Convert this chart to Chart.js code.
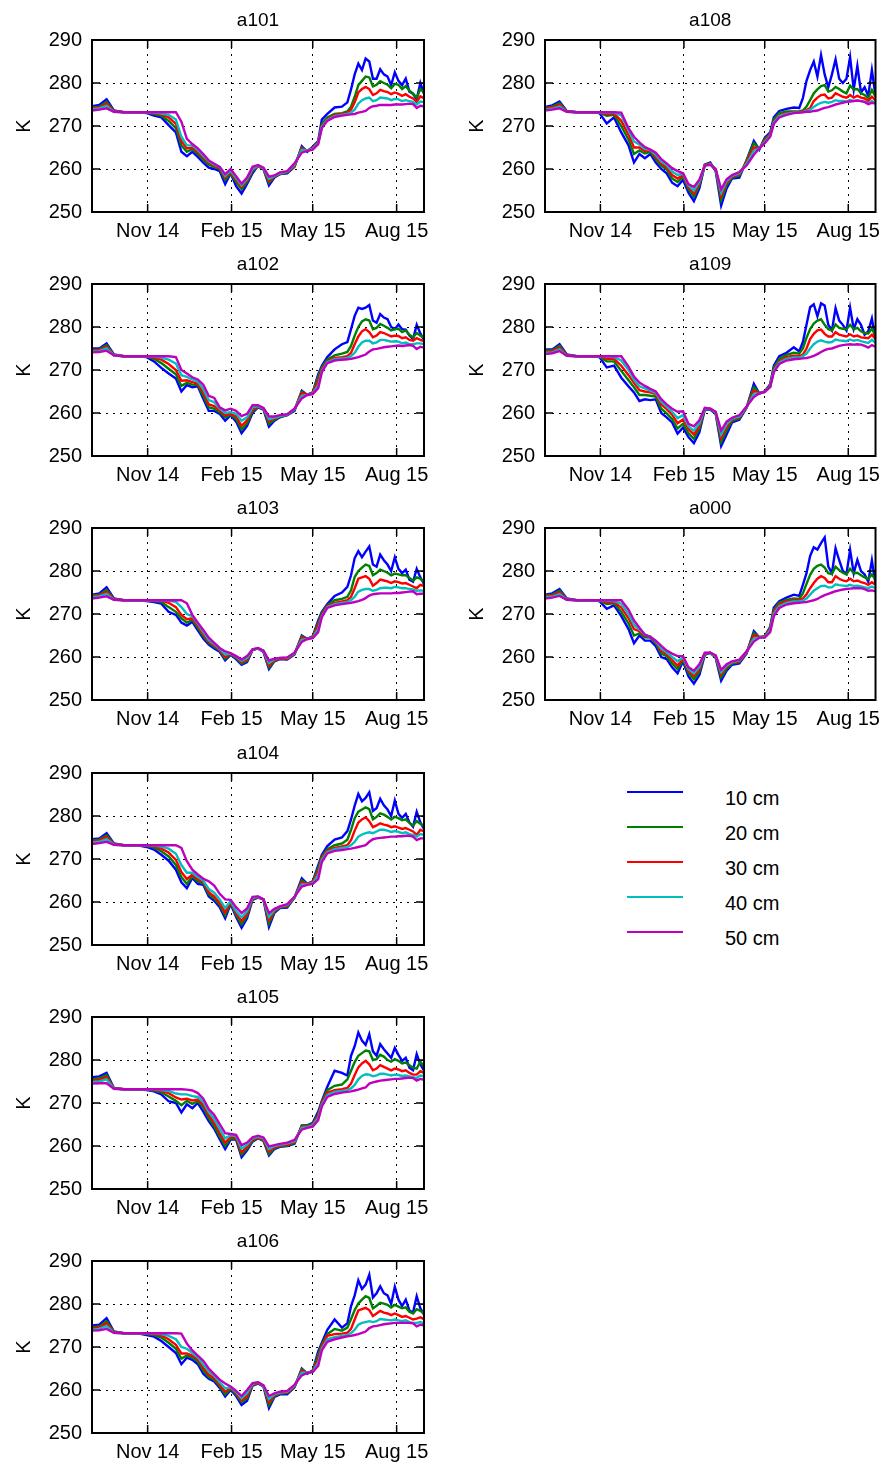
<!DOCTYPE html>
<html>
<head>
<meta charset="utf-8">
<script src="https://cdn.jsdelivr.net/npm/chart.js@4"></script>
<style>
  body { margin: 0; width: 888px; height: 1468px; background: #fff; overflow: hidden; position: relative;
         font-family: "Liberation Sans", Arial, sans-serif; }
  canvas { position: absolute; }
  .key { position: absolute; left: 627px; width: 56px; height: 2px; }
  .lab { position: absolute; left: 725px; font-size: 20px; line-height: 20px; color: #000; white-space: nowrap; }
</style>
</head>
<body>
<script>
// days since 1 Sep 2014
const days = [0,8,16,24,35,50,60,68,76,84,92,98,104,110,116,122,128,134,140,146,152,158,164,170,176,182,188,194,200,206,214,222,230,236,242,248,252,258,266,274,
  280,284,288,292,296,300,304,308,312,316,320,324,328,332,336,340,344,348,352,356,360,364];
const tickDays = [61, 153, 242, 334];
const tickLabels = ['Nov 14', 'Feb 15', 'May 15', 'Aug 15'];
const yTicks = [250, 260, 270, 280, 290];
const depthLabels = ['10 cm', '20 cm', '30 cm', '40 cm', '50 cm'];
const depthColors = ['#0000ff', '#008000', '#ff0000', '#00bfbf', '#bf00bf'];

// a101
const a101_10cm = [274.6,274.9,276.2,273.6,273.2,273.2,273.0,272.4,272.0,270.2,268.5,264.0,263.0,264.0,262.8,261.5,260.3,260.0,259.5,256.5,259.0,256.0,254.3,256.5,259.0,260.8,260.0,256.2,258.0,258.8,259.0,260.5,265.3,264.0,265.2,266.5,271.5,272.8,274.3,274.5,
  275.5,278.5,282.0,284.5,283.0,285.7,285.0,281.0,281.0,283.2,282.0,281.5,279.5,282.5,280.5,279.5,281.0,278.0,277.5,276.2,280.0,277.5];
const a101_20cm = [274.3,274.5,275.6,273.5,273.2,273.2,273.1,272.8,272.4,271.2,269.5,265.5,264.0,264.6,263.5,262.2,261.0,260.5,260.0,257.5,259.0,257.0,255.3,257.0,259.5,260.6,260.0,256.8,258.2,258.8,259.2,260.6,265.0,264.2,265.0,266.3,270.5,272.0,272.8,273.0,
  273.4,274.5,276.8,279.5,280.5,281.5,281.3,279.2,279.6,280.4,280.0,279.6,278.8,279.8,279.6,278.6,279.3,278.2,277.5,276.6,278.6,277.8];
const a101_30cm = [274.1,274.3,275.2,273.4,273.2,273.2,273.2,273.0,272.7,272.0,270.5,266.5,264.8,265.0,264.0,262.7,261.5,260.8,260.3,258.0,259.3,257.5,255.8,257.4,259.8,260.7,260.1,257.2,258.3,258.9,259.3,260.7,264.8,264.3,264.9,266.2,270.0,271.6,272.5,272.8,
  273.0,273.8,275.5,277.8,278.6,279.1,278.6,277.2,277.6,278.4,278.1,277.9,277.4,277.8,277.5,277.0,277.4,276.8,276.4,275.6,276.9,276.5];
const a101_40cm = [273.9,274.1,274.7,273.3,273.2,273.2,273.2,273.1,272.9,272.6,271.5,267.5,265.5,265.5,264.4,263.1,261.8,261.0,260.5,258.4,259.6,257.9,256.2,257.7,260.0,260.8,260.2,257.7,258.4,259.0,259.4,261.0,264.4,264.3,264.7,266.0,269.8,271.4,272.3,272.6,
  272.8,273.1,273.8,275.2,276.0,276.4,276.6,275.8,276.0,276.6,276.5,276.4,276.0,276.3,276.2,275.8,276.0,275.8,275.6,275.0,275.7,275.6];
const a101_50cm = [273.6,273.8,274.1,273.3,273.2,273.2,273.2,273.2,273.2,273.2,273.2,271.0,267.0,265.8,264.8,263.5,262.0,261.2,260.5,258.8,260.0,258.3,256.6,258.0,260.5,260.9,260.3,258.2,258.5,259.2,259.5,261.3,263.8,264.2,264.5,265.8,269.5,271.2,272.1,272.4,
  272.6,272.7,272.8,273.1,273.3,273.5,274.2,274.6,274.7,274.9,274.9,274.9,274.9,275.0,275.0,275.0,275.1,275.2,275.1,274.2,274.7,274.6];

// a108
const a108_10cm = [274.4,274.8,275.7,273.5,273.2,273.2,273.0,270.6,272.0,268.5,265.5,261.5,263.5,262.5,263.5,261.5,260.0,259.0,256.8,256.0,257.5,254.5,252.5,255.5,261.0,261.5,259.5,251.5,255.5,257.8,258.0,262.0,266.5,264.5,267.3,268.5,272.0,273.5,274.0,274.3,
  274.2,276.5,280.5,283.0,285.0,281.5,286.5,282.0,279.0,282.0,285.5,281.0,280.0,281.0,286.0,278.5,284.0,277.8,279.0,277.0,283.0,277.0];
const a108_20cm = [274.2,274.5,275.3,273.4,273.2,273.2,273.1,272.4,272.6,270.0,266.8,263.5,264.3,263.6,264.0,262.3,260.8,259.9,257.8,257.0,258.2,255.3,253.5,256.2,261.0,261.3,259.7,252.8,256.3,258.0,258.5,262.0,266.0,264.6,267.0,268.2,271.5,273.0,273.4,273.4,
  273.4,273.6,274.5,276.0,277.6,278.5,279.3,279.5,278.0,278.3,279.1,278.6,278.0,277.6,279.4,278.5,278.6,277.6,277.2,276.5,278.4,276.8];
const a108_30cm = [274.0,274.3,274.9,273.4,273.2,273.2,273.2,272.8,272.9,271.2,268.0,265.0,265.0,264.2,264.3,262.8,261.3,260.4,258.6,257.8,258.6,255.8,254.3,256.7,260.9,261.2,259.8,253.8,256.8,258.2,258.8,261.6,265.0,264.7,266.6,268.0,271.0,272.5,273.0,273.2,
  273.2,273.4,273.7,274.2,275.8,276.6,277.2,277.3,276.4,276.6,277.6,277.2,276.8,276.6,277.2,276.6,277.0,276.6,276.4,275.8,276.8,276.0];
const a108_40cm = [273.8,274.0,274.5,273.3,273.2,273.2,273.2,273.1,273.1,272.5,269.0,266.4,265.7,264.7,264.4,263.3,261.8,260.9,259.4,258.6,258.9,256.2,255.0,257.1,260.8,261.1,259.9,254.5,257.2,258.4,259.0,261.2,264.2,264.8,266.3,267.8,270.8,272.3,272.8,273.1,
  273.1,273.3,273.5,273.8,274.4,275.0,275.4,275.6,275.4,275.6,276.0,275.8,275.8,275.7,276.1,275.8,276.0,275.8,275.6,275.3,275.8,275.4];
const a108_50cm = [273.6,273.8,274.1,273.3,273.2,273.2,273.2,273.2,273.2,273.1,269.5,267.5,266.2,265.1,264.5,263.8,262.3,261.3,260.2,259.5,259.0,256.5,255.8,257.5,260.8,261.0,260.0,255.3,257.6,258.6,259.3,260.8,263.3,264.8,266.0,267.5,270.5,272.0,272.6,273.0,
  273.1,273.2,273.3,273.3,273.5,273.6,273.9,274.2,274.4,274.7,275.0,275.2,275.4,275.6,275.7,275.8,275.9,275.8,275.6,275.1,275.4,275.2];

// a102
const a102_10cm = [275.0,275.0,276.2,273.6,273.2,273.2,273.0,272.0,270.5,269.2,268.0,265.0,266.5,266.0,266.2,263.3,260.5,260.5,259.8,258.2,259.5,258.0,255.3,257.0,260.0,261.3,260.8,256.8,258.2,259.0,259.5,260.5,265.2,264.2,264.8,269.0,271.0,273.0,274.8,276.0,
  276.5,279.5,282.6,284.5,284.2,284.5,285.1,281.5,281.0,283.0,282.2,281.8,280.0,279.5,280.6,279.5,279.4,278.0,277.2,280.5,278.5,277.0];
const a102_20cm = [274.7,274.8,275.8,273.5,273.2,273.2,273.1,272.6,271.6,270.3,269.0,266.3,267.0,266.6,266.5,264.0,261.3,261.0,260.2,259.0,259.6,258.6,256.2,257.6,260.4,261.4,260.9,257.5,258.5,259.1,259.5,260.7,265.0,264.2,264.7,268.5,270.6,272.4,273.4,273.8,
  274.2,275.6,278.0,280.0,281.3,281.8,281.5,279.5,279.8,280.7,280.3,279.8,279.2,279.5,279.6,278.8,279.2,278.2,277.6,278.6,278.0,277.6];
const a102_30cm = [274.5,274.6,275.4,273.4,273.2,273.2,273.2,272.9,272.4,271.4,270.0,267.5,267.6,267.2,266.8,264.8,262.0,261.6,260.6,259.5,259.8,259.2,257.0,258.3,260.8,261.5,261.0,258.1,258.7,259.2,259.6,260.8,264.6,264.3,264.6,267.5,270.2,272.0,272.8,273.0,
  273.2,274.0,276.0,277.8,279.0,279.5,278.8,277.6,278.0,278.8,278.6,278.2,277.8,278.0,277.9,277.4,277.6,277.0,276.8,277.4,277.0,276.7];
const a102_40cm = [274.3,274.4,275.0,273.4,273.2,273.2,273.2,273.1,272.9,272.4,271.5,268.8,268.4,267.8,267.3,265.6,263.0,262.5,261.0,260.0,260.2,259.8,258.2,259.0,261.3,261.6,261.1,258.6,258.9,259.3,259.6,260.9,264.0,264.2,264.5,266.5,269.8,271.8,272.5,272.7,
  272.8,273.2,274.0,275.4,276.4,276.8,276.8,276.2,276.4,277.0,277.0,276.8,276.6,276.7,276.6,276.2,276.4,276.0,276.0,276.2,276.2,276.0];
const a102_50cm = [274.1,274.2,274.5,273.4,273.2,273.2,273.2,273.2,273.2,273.2,273.0,270.0,269.2,268.3,267.8,266.6,264.0,263.5,261.3,260.6,261.0,260.5,259.3,259.8,261.8,261.8,261.2,259.2,259.2,259.5,259.7,261.0,263.4,264.2,264.4,265.8,269.5,271.6,272.2,272.4,
  272.5,272.6,272.8,273.0,273.3,273.6,274.3,274.8,274.9,275.1,275.3,275.4,275.5,275.6,275.7,275.6,275.7,275.8,275.6,274.9,275.4,275.2];

// a109
const a109_10cm = [274.8,274.8,276.0,273.6,273.2,273.2,273.0,270.6,271.0,268.2,266.2,264.8,262.8,263.2,263.0,263.2,260.0,259.0,257.8,255.2,256.6,254.4,253.0,255.5,260.8,260.8,259.8,252.3,255.0,257.8,258.4,261.2,266.8,264.5,265.0,266.7,271.0,273.2,274.0,275.3,
  274.3,276.5,280.5,284.6,285.3,282.5,285.5,285.0,280.5,279.2,284.4,281.5,280.5,279.2,284.5,279.5,281.8,280.5,278.2,279.0,282.0,277.0];
const a109_20cm = [274.5,274.6,275.6,273.5,273.2,273.2,273.1,272.0,272.0,269.8,267.6,266.0,264.2,264.2,264.0,263.8,261.0,259.9,258.6,256.4,257.5,255.3,254.0,256.3,260.9,260.9,259.9,253.3,256.0,258.2,258.7,261.3,266.0,264.6,265.0,266.5,270.5,272.6,273.5,274.0,
  273.8,275.0,277.5,279.5,280.8,281.5,281.8,280.5,279.5,279.2,280.6,279.8,279.6,279.5,280.5,279.5,279.8,279.0,278.6,278.5,279.6,278.0];
const a109_30cm = [274.2,274.4,275.2,273.4,273.2,273.2,273.2,272.6,272.6,271.0,268.8,267.0,265.3,265.0,264.8,264.4,262.0,260.9,259.6,257.6,258.5,256.3,255.0,257.0,261.0,261.0,260.1,254.2,256.8,258.5,259.0,261.3,265.2,264.6,264.9,266.3,270.0,272.0,273.0,273.3,
  273.2,273.6,275.0,277.2,278.4,279.2,279.4,278.4,277.8,277.8,278.8,278.2,278.0,277.8,278.3,277.8,278.0,277.6,277.5,277.4,278.2,277.2];
const a109_40cm = [274.0,274.1,274.8,273.3,273.2,273.2,273.2,273.1,273.0,272.2,270.0,267.8,266.2,265.7,265.2,264.7,262.6,261.5,260.3,258.8,259.5,256.9,255.9,257.6,261.1,261.0,260.2,255.0,257.4,258.7,259.2,261.4,264.4,264.6,264.9,266.1,269.8,271.7,272.6,272.9,
  272.9,273.2,273.8,275.0,276.0,276.6,276.9,276.6,276.4,276.5,277.1,276.9,276.8,276.7,277.1,276.8,277.0,276.7,276.5,276.3,277.0,276.3];
const a109_50cm = [273.7,273.9,274.4,273.3,273.2,273.2,273.2,273.2,273.2,273.2,270.8,268.5,267.1,266.3,265.6,265.0,263.2,262.0,261.0,260.3,260.4,257.5,256.9,258.3,261.2,261.0,260.3,255.9,258.0,258.9,259.5,261.5,263.7,264.6,264.9,266.0,269.5,271.4,272.2,272.5,
  272.6,272.7,272.8,273.0,273.3,273.7,274.2,274.6,274.9,275.0,275.3,275.6,275.8,275.9,276.0,275.9,276.0,275.9,275.6,275.2,275.8,275.4];

// a103
const a103_10cm = [274.5,274.8,276.2,273.6,273.2,273.2,273.0,272.8,272.4,270.5,269.8,268.0,267.3,268.2,266.2,264.3,262.9,262.0,261.2,259.2,260.5,259.5,258.2,258.8,261.6,262.0,261.2,257.2,259.0,259.5,259.4,260.6,265.0,264.2,264.8,268.5,270.5,272.3,274.2,275.0,
  276.3,279.0,283.0,284.6,283.2,284.5,285.7,281.5,281.0,283.8,282.5,281.5,280.0,283.2,280.5,279.5,280.3,278.0,277.5,280.5,278.5,277.0];
const a103_20cm = [274.3,274.5,275.6,273.5,273.2,273.2,273.1,273.0,272.8,271.6,270.5,269.0,268.0,268.6,266.8,264.8,263.3,262.4,261.5,259.6,260.6,259.8,258.5,259.1,261.7,262.0,261.3,257.6,259.1,259.6,259.5,260.7,264.8,264.2,264.7,268.0,270.2,272.0,273.2,273.5,
  274.0,275.5,278.6,280.0,280.8,281.5,281.2,279.0,279.5,280.3,280.0,279.6,279.0,279.4,279.2,279.0,279.0,278.4,277.8,278.5,278.2,277.5];
const a103_30cm = [274.1,274.3,275.2,273.4,273.2,273.2,273.2,273.2,273.1,272.6,271.6,269.8,268.8,269.0,267.3,265.3,263.6,262.7,261.7,260.0,260.7,260.0,258.8,259.4,261.7,262.0,261.4,258.0,259.3,259.7,259.6,260.8,264.5,264.2,264.6,267.3,269.8,271.8,272.6,272.9,
  273.2,274.0,276.0,278.2,278.5,278.8,278.2,276.6,277.2,278.0,277.8,277.6,277.2,277.6,277.4,277.1,277.2,276.8,276.4,276.0,276.8,276.5];
const a103_40cm = [273.9,274.1,274.7,273.3,273.2,273.2,273.2,273.2,273.2,273.1,272.8,271.6,270.0,269.5,267.7,265.8,264.0,263.0,261.9,260.6,260.8,260.1,259.1,259.8,261.8,262.0,261.4,258.6,259.5,259.8,259.8,260.9,264.0,264.2,264.5,266.5,269.5,271.6,272.3,272.6,
  272.8,273.2,274.0,275.2,275.6,275.8,275.8,275.4,275.6,276.0,276.1,276.1,276.0,276.3,276.2,276.0,276.0,275.8,275.7,275.4,275.5,275.4];
const a103_50cm = [273.6,273.8,274.1,273.3,273.2,273.2,273.2,273.2,273.2,273.2,273.2,273.2,272.5,269.8,268.0,266.3,264.5,263.3,262.1,261.3,260.9,260.2,259.4,260.2,261.8,262.1,261.5,259.2,259.6,259.8,259.9,261.0,263.5,264.2,264.4,265.8,269.3,271.4,272.0,272.3,
  272.5,272.6,272.8,273.0,273.3,273.7,274.3,274.6,274.7,274.8,274.8,274.8,274.8,274.9,274.9,275.0,275.1,275.2,275.3,274.6,274.7,274.7];

// a000
const a000_10cm = [274.5,274.8,275.8,273.6,273.2,273.2,273.0,271.2,272.0,269.5,266.5,263.2,265.0,263.8,263.8,262.5,260.0,259.5,257.6,256.2,259.0,255.5,253.8,255.8,260.5,261.0,259.8,254.5,256.8,258.2,258.5,260.8,266.0,264.6,264.8,267.0,271.5,273.0,273.8,274.5,
  274.2,276.8,279.5,283.5,285.5,285.0,286.5,287.8,281.0,279.5,285.3,282.5,280.0,279.3,284.9,279.5,282.6,280.0,279.2,277.5,282.5,277.0];
const a000_20cm = [274.3,274.5,275.4,273.5,273.2,273.2,273.1,272.3,272.5,270.5,267.8,265.0,265.5,264.6,264.5,263.2,260.8,260.2,258.5,257.2,259.3,256.3,254.8,256.6,260.7,261.0,260.0,255.3,257.3,258.5,258.8,261.0,265.6,264.6,264.8,266.8,271.0,272.7,273.3,273.6,
  273.5,274.8,277.0,279.1,280.5,281.2,281.5,280.8,279.5,279.3,281.0,280.2,279.6,279.2,280.5,279.5,279.6,279.0,278.5,278.2,279.2,278.0];
const a000_30cm = [274.1,274.3,275.0,273.4,273.2,273.2,273.2,272.8,272.8,271.5,269.0,266.5,266.0,265.0,264.8,263.6,261.4,260.7,259.3,258.0,259.6,256.8,255.6,257.2,260.8,261.0,260.1,256.0,257.8,258.7,259.0,261.1,265.0,264.6,264.7,266.5,270.5,272.2,273.0,273.2,
  273.2,273.6,274.6,276.0,277.2,278.2,278.8,278.4,277.4,277.4,278.8,278.2,277.8,277.6,278.2,277.6,277.8,277.4,277.2,276.8,277.4,276.8];
const a000_40cm = [273.9,274.0,274.6,273.3,273.2,273.2,273.2,273.1,273.0,272.4,270.0,267.5,266.4,265.2,264.7,263.7,262.0,261.1,260.0,259.0,259.9,257.2,256.2,257.7,260.9,261.0,260.2,256.5,258.0,258.8,259.2,261.2,264.3,264.5,264.6,266.2,270.0,271.8,272.6,272.9,
  272.9,273.1,273.6,274.5,275.4,276.0,276.5,276.6,276.2,276.2,276.9,276.7,276.6,276.5,276.8,276.5,276.6,276.4,276.2,276.0,276.4,276.0];
const a000_50cm = [273.6,273.8,274.2,273.3,273.2,273.2,273.2,273.2,273.2,273.2,271.0,268.5,266.8,265.2,264.6,263.8,262.6,261.5,260.8,260.2,260.2,257.6,256.8,258.3,261.0,261.0,260.4,257.0,258.3,259.0,259.4,261.3,263.6,264.5,264.5,265.8,269.5,271.4,272.2,272.5,
  272.6,272.7,272.8,273.0,273.2,273.5,274.0,274.4,274.7,275.0,275.3,275.5,275.7,275.8,275.9,276.0,276.0,276.0,275.8,275.4,275.5,275.3];

// a104
const a104_10cm = [274.6,274.8,276.0,273.6,273.2,273.2,272.8,272.2,271.0,269.6,267.5,264.6,263.2,265.6,264.2,264.0,261.3,260.3,258.8,256.2,259.5,256.5,254.0,256.2,260.5,261.0,260.6,254.2,257.5,258.6,258.7,261.0,265.5,264.2,264.8,268.5,271.0,273.0,274.5,275.0,
  276.5,279.2,282.4,285.1,283.4,284.2,285.5,281.2,281.8,284.0,282.5,281.5,280.0,283.6,280.5,279.6,280.5,278.5,277.5,281.0,278.5,277.0];
const a104_20cm = [274.3,274.5,275.5,273.5,273.2,273.2,273.0,272.7,271.8,270.6,268.6,265.8,264.2,266.0,264.8,264.4,261.8,260.8,259.3,256.9,259.8,257.0,254.8,256.8,260.7,261.1,260.6,255.0,257.8,258.7,258.9,261.0,265.0,264.2,264.7,268.0,270.6,272.3,273.2,273.6,
  274.5,276.8,279.5,281.0,281.5,282.0,281.6,279.2,279.8,280.6,280.3,279.8,279.2,279.8,279.5,279.0,279.2,278.4,277.8,278.8,278.2,277.6];
const a104_30cm = [274.1,274.3,275.1,273.4,273.2,273.2,273.2,273.0,272.4,271.5,269.8,267.0,265.3,266.4,265.3,264.7,262.3,261.3,259.8,257.6,260.0,257.4,255.6,257.3,260.8,261.2,260.6,255.8,258.0,258.8,259.1,261.1,264.6,264.2,264.6,267.2,270.2,271.9,272.6,272.9,
  273.2,274.4,276.6,278.5,279.2,279.7,278.8,277.4,277.8,278.3,278.0,277.8,277.4,277.6,277.3,277.0,277.2,276.8,276.4,275.6,276.8,276.4];
const a104_40cm = [273.8,274.0,274.6,273.3,273.2,273.2,273.2,273.1,272.9,272.4,271.2,268.6,266.8,266.8,265.8,265.0,263.0,262.2,260.6,258.6,260.2,257.9,256.4,257.9,261.0,261.2,260.6,256.6,258.2,258.9,259.3,261.1,264.1,264.1,264.4,266.3,269.8,271.6,272.3,272.6,
  272.8,273.2,274.0,275.2,275.7,276.0,276.2,276.0,276.4,276.8,276.8,276.6,276.3,276.5,276.3,276.0,276.2,275.8,275.6,275.2,275.8,275.6];
const a104_50cm = [273.5,273.7,274.0,273.3,273.2,273.2,273.2,273.2,273.2,273.2,273.2,272.6,269.5,267.5,266.4,265.4,264.8,263.8,261.9,260.6,260.5,258.8,257.4,258.5,261.2,261.3,260.6,257.4,258.4,259.0,259.5,261.2,263.6,264.0,264.2,265.3,269.3,271.3,271.9,272.1,
  272.3,272.4,272.6,272.8,273.0,273.2,274.0,274.6,274.8,274.9,275.0,275.1,275.2,275.2,275.3,275.3,275.4,275.4,275.2,274.4,274.8,274.8];

// a105
const a105_10cm = [276.0,276.2,277.0,273.5,273.2,273.2,273.0,272.7,272.0,270.4,270.0,267.8,269.7,268.8,270.0,268.0,265.8,264.0,261.6,259.3,261.5,261.5,257.4,259.0,261.0,261.8,261.2,257.8,259.3,259.8,260.0,260.5,264.8,264.8,265.4,268.0,270.5,273.8,277.5,277.0,
  276.4,281.0,283.2,286.4,284.5,283.5,286.0,282.0,281.0,283.7,282.5,281.5,280.5,282.8,281.2,279.8,280.5,278.2,277.6,281.4,279.0,277.5];
const a105_20cm = [275.5,275.8,276.5,273.4,273.2,273.2,273.1,272.9,272.5,271.5,270.5,269.5,270.5,269.8,270.4,269.0,266.5,264.6,262.2,260.0,261.8,261.7,258.0,259.4,261.2,261.9,261.3,258.2,259.5,259.9,260.1,260.7,264.7,264.7,265.2,267.5,270.3,273.0,274.0,274.3,
  275.5,277.5,279.5,281.0,281.6,282.2,282.0,280.0,280.2,281.2,280.8,280.0,279.6,280.2,279.8,279.2,279.4,278.8,278.2,278.0,279.6,278.5];
const a105_30cm = [275.2,275.4,276.0,273.4,273.2,273.2,273.2,273.1,272.8,272.3,271.3,270.8,271.0,270.6,270.8,269.6,267.2,265.4,263.0,260.8,262.1,262.0,258.6,259.8,261.5,262.0,261.5,258.7,259.7,260.1,260.3,260.9,264.5,264.5,265.0,267.0,270.0,272.4,273.0,273.2,
  273.5,274.5,276.5,278.3,279.2,279.8,279.0,277.6,278.0,278.8,278.4,278.0,277.6,278.0,277.8,277.4,277.6,277.0,276.6,276.6,277.4,277.0];
const a105_40cm = [274.9,275.0,275.5,273.3,273.2,273.2,273.2,273.2,273.0,272.8,272.2,272.0,272.0,271.6,271.4,270.3,267.9,266.3,264.0,261.8,262.5,262.3,259.4,260.3,261.8,262.2,261.8,259.3,260.0,260.3,260.6,261.1,264.2,264.4,264.8,266.5,269.6,271.8,272.6,272.8,
  273.0,273.4,274.2,275.5,276.3,276.7,276.6,276.2,276.4,276.8,276.8,276.6,276.4,276.6,276.5,276.3,276.4,276.2,276.0,275.8,276.4,276.2];
const a105_50cm = [274.5,274.6,274.6,273.3,273.2,273.2,273.2,273.2,273.2,273.2,273.2,273.2,273.1,272.9,272.3,271.0,268.6,267.2,265.1,263.0,262.8,262.6,260.2,260.8,262.0,262.4,262.0,259.9,260.2,260.5,260.8,261.4,263.8,264.2,264.5,266.0,269.2,271.4,272.1,272.4,
  272.6,272.7,272.9,273.1,273.4,273.6,274.5,274.8,275.0,275.2,275.3,275.4,275.5,275.6,275.6,275.7,275.8,275.9,275.8,275.2,275.6,275.4];

// a106
const a106_10cm = [275.0,275.2,276.7,273.6,273.2,273.2,272.8,272.4,271.4,270.0,268.6,266.0,267.5,267.0,266.0,263.8,262.6,262.0,260.5,258.5,260.0,258.6,256.5,257.5,261.0,261.5,260.8,255.8,258.4,259.0,259.0,260.6,265.0,263.8,264.5,269.0,271.0,274.0,276.4,274.5,
  275.5,279.5,282.0,285.5,283.5,284.5,286.8,281.5,282.5,284.1,282.5,282.0,280.0,284.0,281.0,279.5,281.0,278.5,278.0,281.8,279.0,277.5];
const a106_20cm = [274.6,274.8,276.0,273.5,273.2,273.2,273.0,272.8,272.2,271.0,269.6,267.3,268.0,267.6,266.6,264.5,263.0,262.4,260.9,259.0,260.3,259.0,257.2,258.1,261.1,261.6,260.9,256.5,258.6,259.2,259.3,260.7,264.8,263.9,264.4,268.2,270.6,273.0,274.2,273.8,
  274.5,276.5,278.6,280.1,281.0,281.8,281.4,279.0,279.6,280.3,280.1,279.8,279.2,279.8,279.4,279.0,279.2,278.2,277.8,278.8,278.4,277.8];
const a106_30cm = [274.3,274.5,275.5,273.4,273.2,273.2,273.2,273.0,272.7,271.8,270.5,268.5,268.5,268.0,267.2,265.2,263.6,262.8,261.3,259.6,260.5,259.3,257.6,258.6,261.2,261.7,261.0,257.2,258.8,259.3,259.4,260.8,264.5,263.9,264.3,267.2,270.2,272.6,273.0,273.1,
  273.3,274.2,276.4,278.5,278.8,279.1,278.6,277.2,277.8,278.4,278.0,277.8,277.4,277.8,277.4,277.0,277.2,276.8,276.4,276.6,276.9,276.5];
const a106_40cm = [274.0,274.2,274.9,273.3,273.2,273.2,273.2,273.1,273.0,272.6,271.8,270.0,269.6,268.6,267.6,265.9,264.3,263.3,261.8,260.4,260.6,259.6,258.1,259.3,261.4,261.8,261.0,257.9,259.0,259.4,259.6,261.0,264.0,264.0,264.2,266.4,269.6,271.8,272.3,272.6,
  272.8,273.2,274.0,275.2,275.6,275.8,276.0,275.8,276.0,276.5,276.4,276.3,276.2,276.4,276.2,276.0,276.2,275.8,275.6,275.6,275.8,275.5];
const a106_50cm = [273.8,273.9,274.2,273.3,273.2,273.2,273.2,273.2,273.2,273.2,273.2,273.1,270.8,269.2,268.0,266.8,265.0,263.7,262.4,261.5,260.8,259.8,258.6,260.0,261.6,261.8,261.1,258.6,259.2,259.6,259.8,261.2,263.4,264.0,264.2,265.6,269.2,271.2,271.8,272.2,
  272.5,272.6,272.8,273.0,273.3,273.6,274.4,274.8,274.9,275.1,275.3,275.4,275.5,275.6,275.6,275.6,275.6,275.6,275.5,274.8,275.2,275.0];

const panelSeries = {
  a101: [a101_10cm, a101_20cm, a101_30cm, a101_40cm, a101_50cm],
  a108: [a108_10cm, a108_20cm, a108_30cm, a108_40cm, a108_50cm],
  a102: [a102_10cm, a102_20cm, a102_30cm, a102_40cm, a102_50cm],
  a109: [a109_10cm, a109_20cm, a109_30cm, a109_40cm, a109_50cm],
  a103: [a103_10cm, a103_20cm, a103_30cm, a103_40cm, a103_50cm],
  a000: [a000_10cm, a000_20cm, a000_30cm, a000_40cm, a000_50cm],
  a104: [a104_10cm, a104_20cm, a104_30cm, a104_40cm, a104_50cm],
  a105: [a105_10cm, a105_20cm, a105_30cm, a105_40cm, a105_50cm],
  a106: [a106_10cm, a106_20cm, a106_30cm, a106_40cm, a106_50cm]
};

// grid position of each panel: [column, row]
const panelPos = {
  a101: [0, 0], a108: [1, 0], a102: [0, 1], a109: [1, 1], a103: [0, 2],
  a000: [1, 2], a104: [0, 3], a105: [0, 4], a106: [0, 5]
};

Chart.defaults.font.family = '"Liberation Sans", Arial, sans-serif';
Chart.defaults.color = '#000';

// matplotlib-style box with inward ticks on all four sides
const framePlugin = {
  id: 'frame',
  afterDatasetsDraw(chart) {
    const { ctx, chartArea: a, scales } = chart;
    ctx.save();
    ctx.strokeStyle = '#000';
    ctx.lineWidth = 1.5;
    ctx.beginPath();
    tickDays.forEach(d => {
      const px = scales.x.getPixelForValue(d);
      ctx.moveTo(px, a.top); ctx.lineTo(px, a.top + 8);
      ctx.moveTo(px, a.bottom); ctx.lineTo(px, a.bottom - 8);
    });
    yTicks.forEach(v => {
      const py = scales.y.getPixelForValue(v);
      ctx.moveTo(a.left, py); ctx.lineTo(a.left + 8, py);
      ctx.moveTo(a.right, py); ctx.lineTo(a.right - 8, py);
    });
    ctx.stroke();
    ctx.lineWidth = 2;
    ctx.strokeRect(a.left, a.top, a.right - a.left, a.bottom - a.top);
    ctx.restore();
  }
};

function makePanel(name) {
  const [col, row] = panelPos[name];
  const cv = document.createElement('canvas');
  const w = col === 0 ? 444 : 435;
  cv.width = w;
  cv.height = 244;
  cv.style.left = (col === 0 ? 0 : 453) + 'px';
  cv.style.top = Math.round(row * 244.2) + 'px';
  document.body.appendChild(cv);

  const series = panelSeries[name];
  new Chart(cv, {
    type: 'line',
    data: {
      datasets: depthLabels.map((lab, k) => ({
        label: lab,
        data: days.map((d, i) => ({ x: d, y: series[k][i] })),
        borderColor: depthColors[k],
        borderWidth: 2.4,
        pointRadius: 0,
        fill: false,
        tension: 0,
        order: 5 - k
      }))
    },
    options: {
      responsive: false,
      animation: false,
      devicePixelRatio: 1,
      layout: { padding: { left: 0, right: col === 0 ? 20 : 11, top: 0, bottom: 0 } },
      plugins: {
        legend: { display: false },
        tooltip: { enabled: false },
        title: {
          display: true, text: name, color: '#000', fullSize: false,
          font: { size: 19, weight: 'normal' },
          padding: { top: 9, bottom: 8.2 }
        }
      },
      scales: {
        x: {
          type: 'linear', min: 0, max: 364,
          afterBuildTicks: s => { s.ticks = tickDays.map(v => ({ value: v })); },
          afterFit: s => { s.height = 32; },
          ticks: {
            autoSkip: false, maxRotation: 0, padding: 7, color: '#000',
            font: { size: 20 },
            callback: (v, i) => tickLabels[i]
          },
          grid: { color: '#000', lineWidth: 1, drawTicks: false },
          border: { display: false, dash: [2, 5] }
        },
        y: {
          min: 250, max: 290,
          afterBuildTicks: s => { s.ticks = yTicks.map(v => ({ value: v })); },
          afterFit: s => { s.width = 92; },
          ticks: { padding: 10, color: '#000', font: { size: 20 } },
          grid: { color: '#000', lineWidth: 1, drawTicks: false },
          border: { display: false, dash: [2, 5] },
          title: { display: true, text: 'K', color: '#000', font: { size: 20 }, padding: { top: 12, bottom: 0 } }
        }
      }
    },
    plugins: [framePlugin]
  });
}

Object.keys(panelPos).forEach(makePanel);

// legend
depthLabels.forEach((lab, k) => {
  const line = document.createElement('div');
  line.className = 'key';
  line.style.top = (791 + 35 * k) + 'px';
  line.style.background = depthColors[k];
  document.body.appendChild(line);
  const t = document.createElement('div');
  t.className = 'lab';
  t.style.top = (788 + 35 * k) + 'px';
  t.textContent = lab;
  document.body.appendChild(t);
});
</script>
</body>
</html>
